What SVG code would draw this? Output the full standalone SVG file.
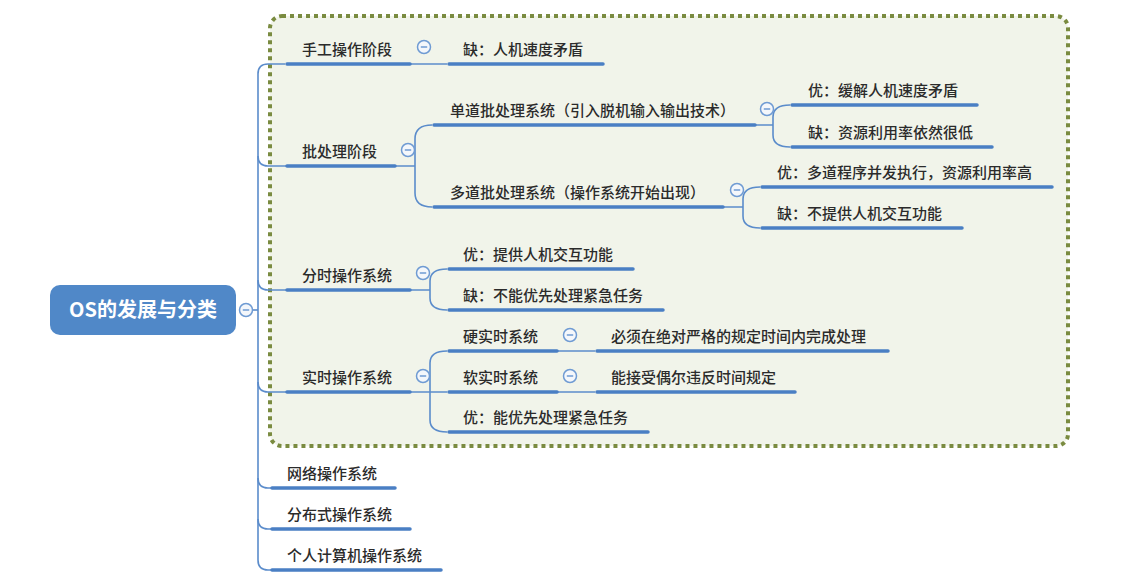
<svg xmlns="http://www.w3.org/2000/svg" width="1144" height="581" viewBox="0 0 1144 581">
<style>
.t{font-family:"Noto Sans CJK SC","Liberation Sans",sans-serif;font-size:15px;font-weight:500;fill:#2b2b2b}
.u{stroke:#4a7fc4;stroke-width:3.5;fill:none;stroke-linecap:round}
.c{stroke:#5b8ccb;stroke-width:1.6;fill:none}
</style>
<defs>
<g id="minus"><circle cx="0" cy="0" r="6.5" fill="#f4f7fb" stroke="#6f9bd3" stroke-width="1.5"/><line x1="-3.2" y1="0" x2="3.2" y2="0" stroke="#6f9bd3" stroke-width="1.5"/></g>
</defs>
<rect width="1144" height="581" fill="#ffffff"/>
<rect id="boundary" x="270" y="16" width="798" height="430" rx="12" fill="#f1f4ea" stroke="#7a8b40" stroke-width="4" stroke-dasharray="4 4"/>

<g id="connectors" class="c">
<path d="M252 310 H258"/>
<path d="M285 64 H268 Q258 64 258 74 V560 Q258 570 268 570 H272"/>
<path d="M258 156 Q258 166 268 166 H287"/>
<path d="M258 280 Q258 290 268 290 H287"/>
<path d="M258 382 Q258 392 268 392 H287"/>
<path d="M258 478 Q258 488 268 488 H272"/>
<path d="M258 519 Q258 529 268 529 H272"/>
<path d="M410 64 H447"/>
<path d="M395 166 H415 M415 166 V139 Q415 125 432 125 M415 166 V193 Q415 207 432 207"/>
<path d="M755 125 H773 M773 125 V117 Q773 105 790 105 M773 125 V135 Q773 147 790 147"/>
<path d="M723 207 H743 M743 207 V199 Q743 187 760 187 M743 207 V216 Q743 228 760 228"/>
<path d="M410 290 H430 M430 290 V281 Q430 269 447 269 M430 290 V298 Q430 310 447 310"/>
<path d="M410 392 H447 M430 392 V363 Q430 351 447 351 M430 392 V420 Q430 432 447 432"/>
<path d="M557 351 H595"/>
<path d="M557 392 H595"/>
</g>

<g id="root">
<rect x="50" y="285" width="186" height="50" rx="10" fill="#5088c8"/>
<text x="143" y="317" text-anchor="middle" style="font-family:'Noto Sans CJK SC','Liberation Sans',sans-serif;font-size:20px;font-weight:bold;fill:#ffffff">OS的发展与分类</text>
<use href="#minus" x="246" y="310"/>
</g>

<g id="n-manual"><text class="t" x="302" y="55">手工操作阶段</text><path class="u" d="M287 64 H410"/><use href="#minus" x="424" y="47"/></g>
<g id="n-manual-con"><text class="t" x="463" y="55">缺：人机速度矛盾</text><path class="u" d="M449 64 H603"/></g>

<g id="n-batch"><text class="t" x="302" y="157">批处理阶段</text><path class="u" d="M287 166 H395"/><use href="#minus" x="408" y="150"/></g>
<g id="n-single"><text class="t" x="450" y="116">单道批处理系统（引入脱机输入输出技术）</text><path class="u" d="M434 125 H755"/><use href="#minus" x="767" y="109"/></g>
<g id="n-single-pro"><text class="t" x="808" y="96">优：缓解人机速度矛盾</text><path class="u" d="M792 105 H977"/></g>
<g id="n-single-con"><text class="t" x="808" y="138">缺：资源利用率依然很低</text><path class="u" d="M792 147 H992"/></g>
<g id="n-multi"><text class="t" x="450" y="198">多道批处理系统（操作系统开始出现）</text><path class="u" d="M434 207 H723"/><use href="#minus" x="737" y="190"/></g>
<g id="n-multi-pro"><text class="t" x="777" y="178">优：多道程序并发执行，资源利用率高</text><path class="u" d="M762 187 H1052"/></g>
<g id="n-multi-con"><text class="t" x="777" y="219">缺：不提供人机交互功能</text><path class="u" d="M762 228 H962"/></g>

<g id="n-timeshare"><text class="t" x="302" y="281">分时操作系统</text><path class="u" d="M287 290 H410"/><use href="#minus" x="423" y="273"/></g>
<g id="n-ts-pro"><text class="t" x="463" y="260">优：提供人机交互功能</text><path class="u" d="M449 269 H633"/></g>
<g id="n-ts-con"><text class="t" x="463" y="301">缺：不能优先处理紧急任务</text><path class="u" d="M449 310 H663"/></g>

<g id="n-realtime"><text class="t" x="302" y="383">实时操作系统</text><path class="u" d="M287 392 H410"/><use href="#minus" x="423" y="376"/></g>
<g id="n-hard"><text class="t" x="463" y="342">硬实时系统</text><path class="u" d="M449 351 H557"/><use href="#minus" x="570" y="335"/></g>
<g id="n-hard-d"><text class="t" x="611" y="342">必须在绝对严格的规定时间内完成处理</text><path class="u" d="M597 351 H888"/></g>
<g id="n-soft"><text class="t" x="463" y="383">软实时系统</text><path class="u" d="M449 392 H557"/><use href="#minus" x="570" y="376"/></g>
<g id="n-soft-d"><text class="t" x="611" y="383">能接受偶尔违反时间规定</text><path class="u" d="M597 392 H795"/></g>
<g id="n-rt-pro"><text class="t" x="463" y="423">优：能优先处理紧急任务</text><path class="u" d="M449 432 H648"/></g>

<g id="n-network"><text class="t" x="287" y="479">网络操作系统</text><path class="u" d="M272 488 H395"/></g>
<g id="n-distributed"><text class="t" x="287" y="520">分布式操作系统</text><path class="u" d="M272 529 H410"/></g>
<g id="n-personal"><text class="t" x="287" y="561">个人计算机操作系统</text><path class="u" d="M272 570 H441"/></g>
</svg>
